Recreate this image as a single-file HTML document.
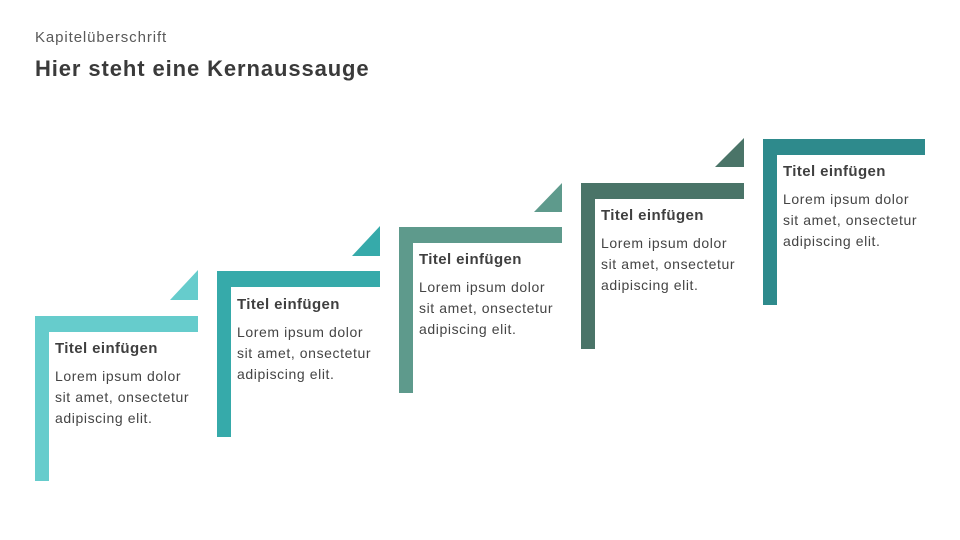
<!DOCTYPE html>
<html><head><meta charset="utf-8"><style>
body{margin:0;width:960px;height:540px;background:#fff;position:relative;overflow:hidden;font-family:"Liberation Sans",sans-serif;color:#404040}
.a{position:absolute}
.h{width:163px;height:16px}
.v{width:14px;height:166px}
.t{position:absolute;font-weight:bold;font-size:15px;line-height:18px;color:#3f3f3f;white-space:nowrap;letter-spacing:0.4px}
.b{position:absolute;font-size:14px;line-height:21px;color:#444;white-space:nowrap;letter-spacing:0.6px}
</style></head><body>
<div class="a" style="left:35px;top:29px;font-size:15px;color:#595959;letter-spacing:0.9px">Kapitelüberschrift</div>
<div class="a" style="left:35px;top:56px;font-size:22px;font-weight:bold;color:#3a3a3a;letter-spacing:0.9px">Hier steht eine Kernaussauge</div>
<svg class="a" style="left:0;top:0" width="960" height="540">
<polygon points="198,270 198,300 170,300" fill="#66cccc"/>
<polygon points="380,226 380,256 352,256" fill="#36aaaa"/>
<polygon points="562,183 562,212 534,212" fill="#5e9a8c"/>
<polygon points="744,138 744,167 715,167" fill="#4a7468"/>
</svg>
<div class="a h" style="left:35px;top:316px;background:#66cccc"></div><div class="a v" style="left:35px;top:316px;height:165px;background:#66cccc"></div>
<div class="a h" style="left:217px;top:271px;background:#36aaaa"></div><div class="a v" style="left:217px;top:271px;background:#36aaaa"></div>
<div class="a h" style="left:399px;top:227px;background:#5e9a8c"></div><div class="a v" style="left:399px;top:227px;background:#5e9a8c"></div>
<div class="a h" style="left:581px;top:183px;background:#4a7468"></div><div class="a v" style="left:581px;top:183px;background:#4a7468"></div>
<div class="a h" style="left:763px;top:139px;width:162px;background:#2e8a8c"></div><div class="a v" style="left:763px;top:139px;background:#2e8a8c"></div>

<div class="t" style="left:55px;top:340px">Titel einfügen</div>
<div class="b" style="left:55px;top:366px">Lorem ipsum dolor<br>sit amet, onsectetur<br>adipiscing elit.</div>
<div class="t" style="left:237px;top:296px">Titel einfügen</div>
<div class="b" style="left:237px;top:322px">Lorem ipsum dolor<br>sit amet, onsectetur<br>adipiscing elit.</div>
<div class="t" style="left:419px;top:251px">Titel einfügen</div>
<div class="b" style="left:419px;top:277px">Lorem ipsum dolor<br>sit amet, onsectetur<br>adipiscing elit.</div>
<div class="t" style="left:601px;top:207px">Titel einfügen</div>
<div class="b" style="left:601px;top:233px">Lorem ipsum dolor<br>sit amet, onsectetur<br>adipiscing elit.</div>
<div class="t" style="left:783px;top:163px">Titel einfügen</div>
<div class="b" style="left:783px;top:189px">Lorem ipsum dolor<br>sit amet, onsectetur<br>adipiscing elit.</div>
</body></html>
